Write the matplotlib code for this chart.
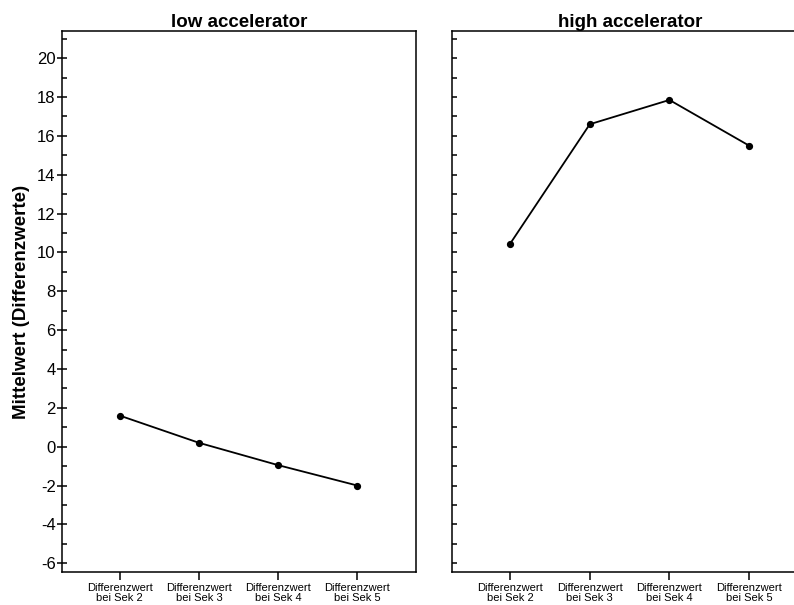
import matplotlib
matplotlib.use('Agg')
import matplotlib.pyplot as plt
from matplotlib.ticker import MultipleLocator

plt.rcParams['font.family'] = ['Liberation Sans', 'DejaVu Sans']
plt.rcParams['axes.unicode_minus'] = False

# data
categories = ['Differenzwert\nbei Sek 2', 'Differenzwert\nbei Sek 3',
              'Differenzwert\nbei Sek 4', 'Differenzwert\nbei Sek 5']
low_values = [1.6, 0.2, -0.95, -2.0]
high_values = [10.45, 16.6, 17.85, 15.5]
panel_titles = ['low accelerator', 'high accelerator']
y_label = 'Mittelwert (Differenzwerte)'

fig = plt.figure(figsize=(7.94, 6.05), dpi=100)
W, H = 794, 605
ax_l = fig.add_axes([62 / W, 1 - 572 / H, 354 / W, 541 / H])
ax_r = fig.add_axes([452 / W, 1 - 572 / H, 356 / W, 541 / H])

x = list(range(len(categories)))
for ax, vals, title in [(ax_l, low_values, panel_titles[0]),
                        (ax_r, high_values, panel_titles[1])]:
    ax.plot(x, vals, color='black', lw=1.3, marker='o', ms=4.2)
    ax.set_xlim(-0.73, 3.74)
    ax.set_ylim(-6.45, 21.4)
    ax.set_xticks(x)
    ax.set_xticklabels(categories, fontsize=8, linespacing=1.0)
    ax.tick_params(axis='x', direction='out', length=6, width=1.1, pad=2.2)
    ax.yaxis.set_major_locator(MultipleLocator(2))
    ax.yaxis.set_minor_locator(MultipleLocator(1))
    ax.set_title(title, fontsize=13.5, fontweight='bold', pad=3)
    for sp in ax.spines.values():
        sp.set_linewidth(1.1)

ax_l.tick_params(axis='y', which='major', direction='inout', length=7,
                 width=1.1, labelsize=12, pad=1)
ax_l.tick_params(axis='y', which='minor', direction='in', length=3.5, width=1.1)
ax_l.set_ylabel(y_label, fontsize=13.5, fontweight='bold', labelpad=5)

ax_r.tick_params(axis='y', which='both', direction='in', length=3.6,
                 width=1.1, labelleft=False)

fig.savefig('out.png', dpi=100)
